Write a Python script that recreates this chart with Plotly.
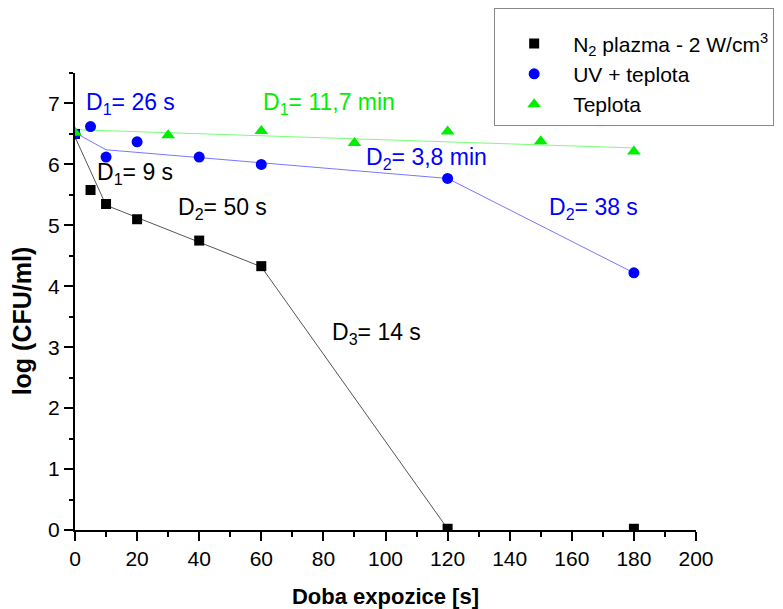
import plotly.graph_objects as go

# Data
t_plasma = [0, 5, 10, 20, 40, 60, 120, 180]
y_plasma = [6.5, 5.58, 5.35, 5.10, 4.75, 4.33, 0.02, 0.02]
t_uv = [0, 5, 10, 20, 40, 60, 120, 180]
y_uv = [6.5, 6.62, 6.12, 6.37, 6.12, 6.0, 5.77, 4.22]
t_heat = [0, 30, 60, 90, 120, 150, 180]
y_heat = [6.52, 6.48, 6.55, 6.35, 6.54, 6.38, 6.21]

# piecewise fit lines
fit_plasma_t = [0, 10, 60, 120]
fit_plasma_y = [6.45, 5.33, 4.32, 0.02]
fit_uv_t = [0, 10, 120, 180]
fit_uv_y = [6.52, 6.24, 5.77, 4.22]
fit_heat_t = [0, 180]
fit_heat_y = [6.57, 6.27]

BLUE = "#0000ff"
GREEN = "#00ee00"
FONT = "Liberation Sans, Arial, sans-serif"

fig = go.Figure()
fig.add_trace(go.Scatter(x=fit_plasma_t, y=fit_plasma_y, mode="lines",
                         line=dict(color="#555555", width=1), showlegend=False, hoverinfo="skip"))
fig.add_trace(go.Scatter(x=fit_uv_t, y=fit_uv_y, mode="lines",
                         line=dict(color="#7777ff", width=1), showlegend=False, hoverinfo="skip"))
fig.add_trace(go.Scatter(x=fit_heat_t, y=fit_heat_y, mode="lines",
                         line=dict(color="#77ff77", width=1), showlegend=False, hoverinfo="skip"))

fig.add_trace(go.Scatter(x=t_plasma, y=y_plasma, mode="markers", name="N<sub>2</sub> plazma - 2 W/cm<sup>3</sup>",
                         marker=dict(symbol="square", size=10, color="black")))
fig.add_trace(go.Scatter(x=t_uv, y=y_uv, mode="markers", name="UV + teplota",
                         marker=dict(symbol="circle", size=11, color=BLUE)))
fig.add_trace(go.Scatter(x=t_heat, y=y_heat, mode="markers", name="Teplota",
                         marker=dict(symbol="triangle-up", size=12, color=GREEN)))

annots = [
    (3, 7.0, "D<sub>1</sub>= 26 s", BLUE),
    (60, 7.0, "D<sub>1</sub>= 11,7 min", GREEN),
    (6.5, 5.85, "D<sub>1</sub>= 9 s", "black"),
    (32.5, 5.28, "D<sub>2</sub>= 50 s", "black"),
    (93, 6.1, "D<sub>2</sub>= 3,8 min", BLUE),
    (152, 5.28, "D<sub>2</sub>= 38 s", BLUE),
    (82, 3.22, "D<sub>3</sub>= 14 s", "black"),
]
for x, y, txt, c in annots:
    fig.add_annotation(x=x, y=y, text=txt, showarrow=False, xanchor="left", yanchor="middle",
                       font=dict(size=23, color=c, family=FONT))

fig.add_annotation(x=-0.085, y=0.457, xref="paper", yref="paper", text="<b>log (CFU/ml)</b>",
                   showarrow=False, textangle=-90, xanchor="center", yanchor="middle",
                   font=dict(size=25, family=FONT, color="black"))

fig.update_layout(
    width=783, height=609,
    margin=dict(l=75, r=87, t=73, b=79, autoexpand=False),
    plot_bgcolor="white", paper_bgcolor="white",
    font=dict(family=FONT, size=21, color="black"),
    showlegend=True,
    legend=dict(x=0.675, y=1.142, xanchor="left", yanchor="top",
                bgcolor="white", bordercolor="#888888", borderwidth=1,
                title=dict(text=" ", font=dict(size=11)),
                font=dict(size=21, family=FONT), itemwidth=68, tracegroupgap=0),
    xaxis=dict(range=[0, 200], tickvals=list(range(0, 201, 20)), showgrid=False, zeroline=False,
               automargin=False,
               showline=True, linecolor="black", linewidth=2, ticks="outside", ticklen=9,
               tickcolor="black", tickwidth=2, tickfont=dict(size=21),
               minor=dict(dtick=10, ticks="outside", ticklen=5, tickcolor="black", tickwidth=2, showgrid=False),
               title=dict(text="<b>Doba expozice [s]</b>", font=dict(size=22), standoff=22)),
    yaxis=dict(range=[0, 7.5], tickvals=list(range(0, 8)), showgrid=False, zeroline=False,
               automargin=False,
               showline=True, linecolor="black", linewidth=2, ticks="outside", ticklen=9,
               tickcolor="black", tickwidth=2, tickfont=dict(size=21),
               minor=dict(dtick=0.5, ticks="outside", ticklen=4, tickcolor="black", tickwidth=2, showgrid=False)),
)

fig.write_html("out.html")
